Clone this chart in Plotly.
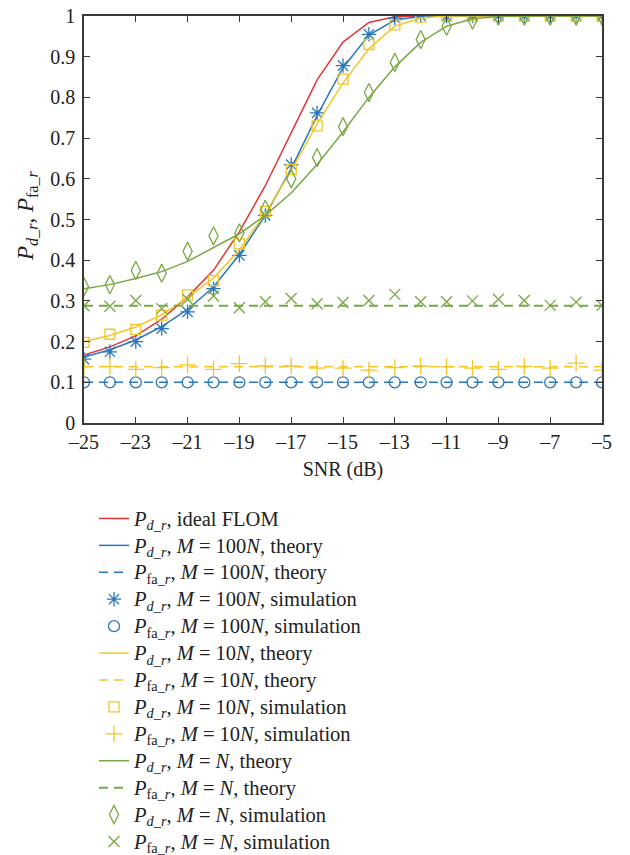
import plotly.graph_objects as go

snr = [-25, -24, -23, -22, -21, -20, -19, -18, -17, -16, -15, -14, -13, -12, -11, -10, -9, -8, -7, -6, -5]

pd_ideal = [0.167, 0.187, 0.214, 0.255, 0.31, 0.375, 0.47, 0.583, 0.713, 0.843, 0.936, 0.984, 0.998, 1.0, 1.0, 1.0, 1.0, 1.0, 1.0, 1.0, 1.0]

pd_100n_th = [0.162, 0.18, 0.204, 0.237, 0.279, 0.334, 0.414, 0.51, 0.625, 0.755, 0.873, 0.953, 0.99, 0.999, 1.0, 1.0, 1.0, 1.0, 1.0, 1.0, 1.0]
pfa_100n_th = [0.1, 0.1, 0.1, 0.1, 0.1, 0.1, 0.1, 0.1, 0.1, 0.1, 0.1, 0.1, 0.1, 0.1, 0.1, 0.1, 0.1, 0.1, 0.1, 0.1, 0.1]
pd_100n_sim = [0.157, 0.175, 0.2, 0.232, 0.273, 0.33, 0.412, 0.51, 0.635, 0.762, 0.878, 0.955, 0.995, 1.0, 1.0, 1.0, 1.0, 1.0, 1.0, 1.0, 1.0]
pfa_100n_sim = [0.1, 0.1, 0.1, 0.1, 0.1, 0.1, 0.1, 0.1, 0.1, 0.1, 0.1, 0.1, 0.1, 0.1, 0.1, 0.1, 0.1, 0.1, 0.1, 0.1, 0.1]

pd_10n_th = [0.2, 0.215, 0.236, 0.266, 0.308, 0.356, 0.425, 0.515, 0.62, 0.735, 0.835, 0.92, 0.975, 0.995, 1.0, 1.0, 1.0, 1.0, 1.0, 1.0, 1.0]
pfa_10n_th = [0.138, 0.138, 0.138, 0.138, 0.138, 0.138, 0.138, 0.138, 0.138, 0.138, 0.138, 0.138, 0.138, 0.138, 0.138, 0.138, 0.138, 0.138, 0.138, 0.138, 0.138]
pd_10n_sim = [0.198, 0.218, 0.23, 0.265, 0.315, 0.35, 0.44, 0.52, 0.623, 0.73, 0.845, 0.93, 0.978, 0.997, 1.0, 1.0, 1.0, 1.0, 1.0, 1.0, 1.0]
pfa_10n_sim = [0.139, 0.139, 0.132, 0.136, 0.143, 0.132, 0.146, 0.14, 0.14, 0.135, 0.135, 0.13, 0.136, 0.14, 0.138, 0.135, 0.132, 0.139, 0.135, 0.147, 0.13]

pd_1n_th = [0.33, 0.34, 0.355, 0.372, 0.397, 0.43, 0.465, 0.51, 0.565, 0.635, 0.715, 0.8, 0.875, 0.935, 0.975, 0.993, 0.999, 1.0, 1.0, 1.0, 1.0]
pfa_1n_th = [0.288, 0.288, 0.288, 0.288, 0.288, 0.288, 0.288, 0.288, 0.288, 0.288, 0.288, 0.288, 0.288, 0.288, 0.288, 0.288, 0.288, 0.288, 0.288, 0.288, 0.288]
pd_1n_sim = [0.335, 0.34, 0.375, 0.368, 0.422, 0.46, 0.467, 0.525, 0.6, 0.652, 0.728, 0.812, 0.886, 0.942, 0.975, 0.99, 1.0, 1.0, 1.0, 1.0, 1.0]
pfa_1n_sim = [0.288, 0.287, 0.301, 0.281, 0.304, 0.312, 0.283, 0.298, 0.306, 0.293, 0.296, 0.301, 0.316, 0.298, 0.298, 0.3, 0.304, 0.301, 0.289, 0.297, 0.289]

x_tickvals = [-25, -23, -21, -19, -17, -15, -13, -11, -9, -7, -5]
x_ticktext = ["\u201325", "\u201323", "\u201321", "\u201319", "\u201317", "\u201315", "\u201313", "\u201311", "\u20139", "\u20137", "\u20135"]
y_tickvals = [0, 0.1, 0.2, 0.3, 0.4, 0.5, 0.6, 0.7, 0.8, 0.9, 1]
y_ticktext = ["0", "0.1", "0.2", "0.3", "0.4", "0.5", "0.6", "0.7", "0.8", "0.9", "1"]

RED = "#e2363b"
BLUE = "#2a78bb"
YEL = "#f3c62a"
GRN = "#78a844"
DASH = "9px,6px"

PD = "<i>P</i><sub><i>d</i>_<i>r</i></sub>"
PFA = "<i>P</i><sub>fa_<i>r</i></sub>"


def lab(s):
    return '<span style="font-size:20.5px">' + s + "</span>"


names = [
    PD + ", ideal FLOM",
    PD + ", <i>M</i> = 100<i>N</i>, theory",
    PFA + ", <i>M</i> = 100<i>N</i>, theory",
    PD + ", <i>M</i> = 100<i>N</i>, simulation",
    PFA + ", <i>M</i> = 100<i>N</i>, simulation",
    PD + ", <i>M</i> = 10<i>N</i>, theory",
    PFA + ", <i>M</i> = 10<i>N</i>, theory",
    PD + ", <i>M</i> = 10<i>N</i>, simulation",
    PFA + ", <i>M</i> = 10<i>N</i>, simulation",
    PD + ", <i>M</i> = <i>N</i>, theory",
    PFA + ", <i>M</i> = <i>N</i>, theory",
    PD + ", <i>M</i> = <i>N</i>, simulation",
    PFA + ", <i>M</i> = <i>N</i>, simulation",
]

fig = go.Figure()


def line(y, color, name, dash=None, width=1.5):
    fig.add_trace(go.Scatter(x=snr, y=y, mode="lines", name=lab(name),
                             line=dict(color=color, width=width, dash=dash)))


def marks(y, color, name, symbol, size):
    fig.add_trace(go.Scatter(x=snr, y=y, mode="markers", name=lab(name),
                             marker=dict(symbol=symbol, size=size, color=color,
                                         line=dict(color=color, width=1.3))))


line(pd_ideal, RED, names[0])
line(pd_100n_th, BLUE, names[1])
line(pfa_100n_th, BLUE, names[2], dash=DASH)
marks(pd_100n_sim, BLUE, names[3], "asterisk-open", 12)
marks(pfa_100n_sim, BLUE, names[4], "circle-open", 11)
line(pd_10n_th, YEL, names[5])
line(pfa_10n_th, YEL, names[6], dash=DASH)
marks(pd_10n_sim, YEL, names[7], "square-open", 10)
marks(pfa_10n_sim, YEL, names[8], "cross-thin-open", 12)
line(pd_1n_th, GRN, names[9])
line(pfa_1n_th, GRN, names[10], dash=DASH, width=2)
marks(pd_1n_sim, GRN, names[11], "diamond-tall-open", 13)
marks(pfa_1n_sim, GRN, names[12], "x-thin-open", 11)

AX = "#3a3a3a"
FONT = "Liberation Serif"

fig.update_layout(
    width=630, height=855,
    margin=dict(l=84, r=28, t=16, b=432, autoexpand=False),
    paper_bgcolor="white", plot_bgcolor="white",
    font=dict(family=FONT, size=20, color="#222"),
    showlegend=True,
    legend=dict(
        xref="container", yref="container",
        x=94 / 630, y=1 - 500 / 855, xanchor="left", yanchor="top",
        font=dict(family=FONT, size=18.4, color="#222"),
        tracegroupgap=0, bgcolor="rgba(0,0,0,0)", borderwidth=0,
    ),
    xaxis=dict(
        range=[-25, -5], tickvals=x_tickvals, ticktext=x_ticktext,
        ticks="inside", ticklen=6, tickwidth=1.2, tickcolor=AX,
        showline=True, linecolor=AX, linewidth=1.5, mirror="ticks",
        showgrid=False, zeroline=False,
        tickfont=dict(family=FONT, size=20, color="#222"),
        title=dict(text="SNR (dB)", font=dict(family=FONT, size=20, color="#222"), standoff=10),
    ),
    yaxis=dict(
        range=[0, 1], tickvals=y_tickvals, ticktext=y_ticktext,
        ticks="inside", ticklen=6, tickwidth=1.2, tickcolor=AX,
        showline=True, linecolor=AX, linewidth=1.5, mirror="ticks",
        showgrid=False, zeroline=False, ticklabelstandoff=3,
        tickfont=dict(family=FONT, size=20, color="#222"),
    ),
    annotations=[dict(
        text=PD + ", " + PFA, textangle=-90,
        xref="paper", yref="paper", x=(27 - 84) / 518, y=(423 - 216) / 407,
        xanchor="center", yanchor="middle", showarrow=False,
        font=dict(family=FONT, size=23, color="#222"),
    )],
)

fig.write_html("out.html")
